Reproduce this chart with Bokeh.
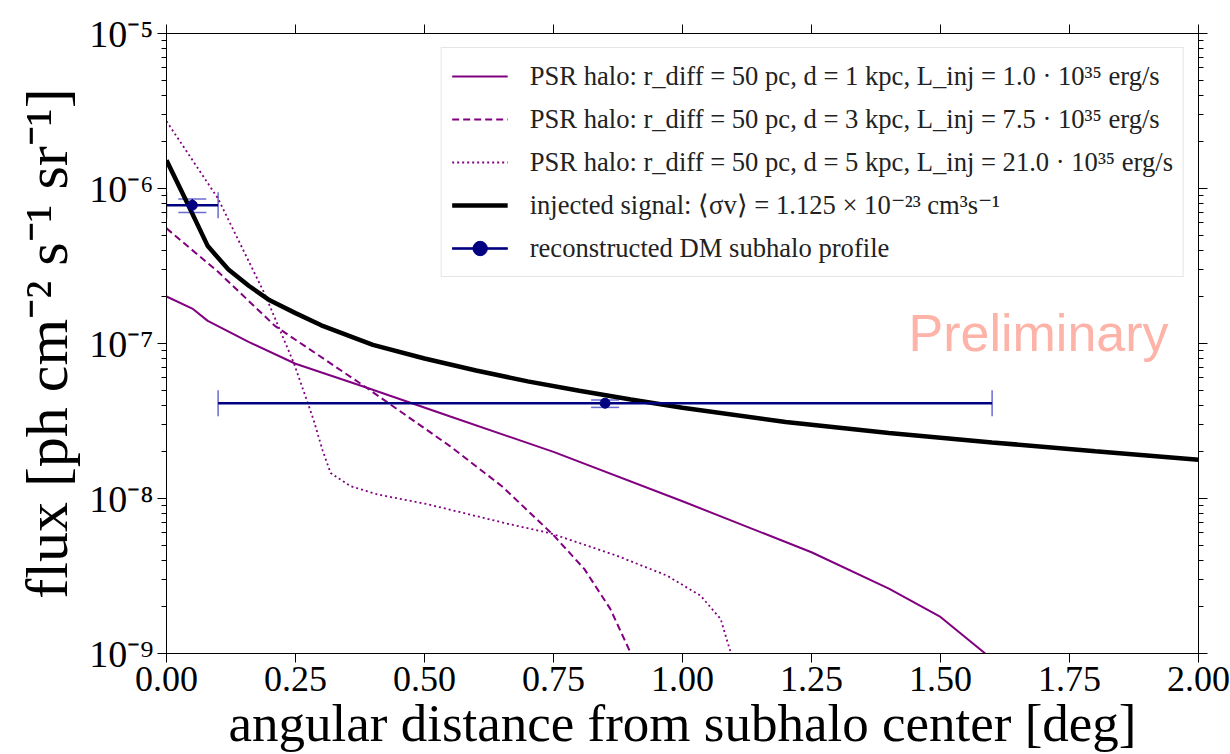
import numpy as np
from bokeh.plotting import figure
from bokeh.models import (ColumnDataSource, FixedTicker, CustomJSTickFormatter, LinearAxis, LogAxis,
                          Legend, LegendItem, Whisker, TeeHead, Range1d, Label, NumeralTickFormatter)
from bokeh.embed import file_html
from bokeh.resources import INLINE

# ---------------- data ----------------
sig_x = [0.0, 0.04, 0.08, 0.12, 0.16, 0.20, 0.25, 0.30, 0.40, 0.50, 0.60, 0.70, 0.80, 0.90, 1.00,
         1.20, 1.40, 1.60, 1.80, 2.00]
sig_y = [1.52e-6, 8.1e-7, 4.25e-7, 3.0e-7, 2.35e-7, 1.90e-7, 1.57e-7, 1.31e-7, 9.8e-8, 8.0e-8, 6.7e-8,
         5.7e-8, 4.95e-8, 4.35e-8, 3.85e-8, 3.12e-8, 2.65e-8, 2.3e-8, 2.02e-8, 1.78e-8]

d1_x = [0.0, 0.05, 0.08, 0.16, 0.25, 0.38, 0.55, 0.75, 1.0, 1.25, 1.4, 1.5, 1.6, 1.7]
d1_y = [2.01e-7, 1.68e-7, 1.40e-7, 1.02e-7, 7.4e-8, 5.3e-8, 3.38e-8, 2.0e-8, 9.6e-9, 4.5e-9, 2.62e-9,
        1.72e-9, 9.2e-10, 4.5e-10]

d3_x = [0.0, 0.10, 0.21, 0.38, 0.55, 0.65, 0.75, 0.81, 0.86, 0.90, 0.93]
d3_y = [5.53e-7, 2.9e-7, 1.3e-7, 5.4e-8, 2.17e-8, 1.2e-8, 5.8e-9, 3.5e-9, 1.94e-9, 1.0e-9, 6e-10]

d5_x = [0.0, 0.10, 0.19, 0.247, 0.285, 0.302, 0.318, 0.357, 0.41, 0.505, 0.667, 0.744, 0.873, 0.97,
        1.035, 1.074, 1.087, 1.093, 1.10]
d5_y = [2.72e-6, 8.6e-7, 2.1e-7, 7.45e-8, 3.22e-8, 2.07e-8, 1.46e-8, 1.2e-8, 1.06e-8, 9.2e-9, 6.8e-9,
        5.97e-9, 4.27e-9, 3.18e-9, 2.36e-9, 1.67e-9, 1.19e-9, 1.03e-9, 7e-10]

pt_x = [0.05, 0.85]
pt_y = [7.8e-7, 4.12e-8]
pt_xlo = [0.0, 0.10]
pt_xhi = [0.10, 1.60]
pt_ylo = [7.0e-7, 3.87e-8]
pt_yhi = [8.55e-7, 4.32e-8]

x_ticks = [0.0, 0.25, 0.5, 0.75, 1.0, 1.25, 1.5, 1.75, 2.0]
y_ticks = [1e-9, 1e-8, 1e-7, 1e-6, 1e-5]
y_minor = [m * 10.0 ** e for e in range(-9, -5) for m in range(2, 10)]

labels = [
    "PSR halo: r_diff = 50 pc, d = 1 kpc, L_inj = 1.0 · 10³⁵ erg/s",
    "PSR halo: r_diff = 50 pc, d = 3 kpc, L_inj = 7.5 · 10³⁵ erg/s",
    "PSR halo: r_diff = 50 pc, d = 5 kpc, L_inj = 21.0 · 10³⁵ erg/s",
    "injected signal: ⟨σv⟩ = 1.125 × 10⁻²³ cm³s⁻¹",
    "reconstructed DM subhalo profile",
]
x_title = "angular distance from subhalo center [deg]"
y_title = "flux [ph cm⁻² s⁻¹ sr⁻¹]"

SERIF = "Liberation Serif"
PURPLE = "#800080"
NAVY = "#000080"
CAP = "#6b6bd2"

p = figure(width=1230, height=754, x_range=Range1d(0, 2), y_range=Range1d(1e-9, 1e-5),
           y_axis_type="log", output_backend="svg", toolbar_location=None,
           min_border_left=166, min_border_right=32, min_border_top=33, min_border_bottom=100)
p.xgrid.visible = False
p.ygrid.visible = False
p.outline_line_color = "black"
p.background_fill_color = "white"
p.border_fill_color = "white"

bottom_ax = p.below[0]
left_ax = p.left[0]

r1 = p.line(d1_x, d1_y, line_color=PURPLE, line_width=2)
r3 = p.line(d3_x, d3_y, line_color=PURPLE, line_width=2, line_dash="7 4")
r5 = p.line(d5_x, d5_y, line_color=PURPLE, line_width=1.8, line_dash="2 3")
rs = p.line(sig_x, sig_y, line_color="black", line_width=4.5)

src = ColumnDataSource(dict(x=pt_x, y=pt_y, xlo=pt_xlo, xhi=pt_xhi, ylo=pt_ylo, yhi=pt_yhi))
rh = p.segment(x0="xlo", y0="y", x1="xhi", y1="y", source=src, line_color=NAVY, line_width=2.5)
rv = p.segment(x0="x", y0="ylo", x1="x", y1="yhi", source=src, line_color=NAVY, line_width=1.5)
wx = Whisker(source=src, base="y", lower="xlo", upper="xhi", dimension="width", line_color=None,
             lower_head=TeeHead(size=26, line_color=CAP, line_width=1.5),
             upper_head=TeeHead(size=26, line_color=CAP, line_width=1.5))
wy = Whisker(source=src, base="x", lower="ylo", upper="yhi", dimension="height", line_color=None,
             lower_head=TeeHead(size=28, line_color=CAP, line_width=1.5),
             upper_head=TeeHead(size=28, line_color=CAP, line_width=1.5))
p.add_layout(wx)
p.add_layout(wy)
rp = p.scatter(x="x", y="y", source=src, size=10, color=NAVY)

# axes
bottom_ax.ticker = FixedTicker(ticks=x_ticks)
bottom_ax.formatter = NumeralTickFormatter(format="0.00")
left_ax.ticker = FixedTicker(ticks=y_ticks, minor_ticks=y_minor)
sup_code = """
const e = Math.round(Math.log10(tick));
const s = {'-':'\u207b','0':'\u2070','1':'\u00b9','2':'\u00b2','3':'\u00b3','4':'\u2074','5':'\u2075','6':'\u2076','7':'\u2077','8':'\u2078','9':'\u2079'};
return '10' + String(e).split('').map(c => s[c]).join('');
"""
left_ax.formatter = CustomJSTickFormatter(code=sup_code)

blank = CustomJSTickFormatter(code="return '';")
top_ax = LinearAxis(ticker=FixedTicker(ticks=x_ticks), formatter=blank)
right_ax = LogAxis(ticker=FixedTicker(ticks=y_ticks, minor_ticks=y_minor), formatter=blank)
p.add_layout(top_ax, "above")
p.add_layout(right_ax, "right")

for ax in [bottom_ax, left_ax, top_ax, right_ax]:
    ax.axis_line_color = "black"
    ax.major_tick_line_color = "black"
    ax.minor_tick_line_color = "black"
    ax.major_tick_out = 9
    ax.major_tick_in = 0
    ax.minor_tick_out = 5
    ax.minor_tick_in = 0
    ax.major_label_text_font = SERIF
    ax.major_label_text_color = "black"
    ax.major_label_text_font_size = "38px"
    ax.major_label_standoff = 4
    ax.axis_label_text_font = SERIF
    ax.axis_label_text_font_style = "normal"
    ax.axis_label_text_color = "black"
for ax in [bottom_ax, top_ax]:
    ax.minor_tick_line_color = None
bottom_ax.major_label_text_font_size = "36px"

left_ax.axis_label = y_title
left_ax.axis_label_text_font_size = "60px"
left_ax.axis_label_standoff = 6

bottom_ax.axis_label = x_title
bottom_ax.axis_label_text_font_size = "53px"
bottom_ax.axis_label_standoff = 0

prelim = Label(x=1.438, y=1.17e-7, text="Preliminary", text_font="Liberation Sans",
               text_font_size="52px", text_color="#fdb3a7", text_align="left",
               text_baseline="alphabetic")
p.add_layout(prelim)

legend = Legend(items=[
    LegendItem(label=labels[0], renderers=[r1]),
    LegendItem(label=labels[1], renderers=[r3]),
    LegendItem(label=labels[2], renderers=[r5]),
    LegendItem(label=labels[3], renderers=[rs]),
    LegendItem(label=labels[4], renderers=[rh, rv, rp]),
], location="top_right")
legend.margin = 14
legend.padding = 10
legend.spacing = 7
legend.glyph_width = 56
legend.glyph_height = 36
legend.label_height = 36
legend.label_standoff = 22
legend.label_text_font = SERIF
legend.label_text_font_size = "26.6px"
legend.label_text_color = "#222222"
legend.border_line_color = "#cccccc"
legend.border_line_width = 1
legend.background_fill_alpha = 0.8
p.add_layout(legend)

open("out.html", "w").write(file_html(p, INLINE))
